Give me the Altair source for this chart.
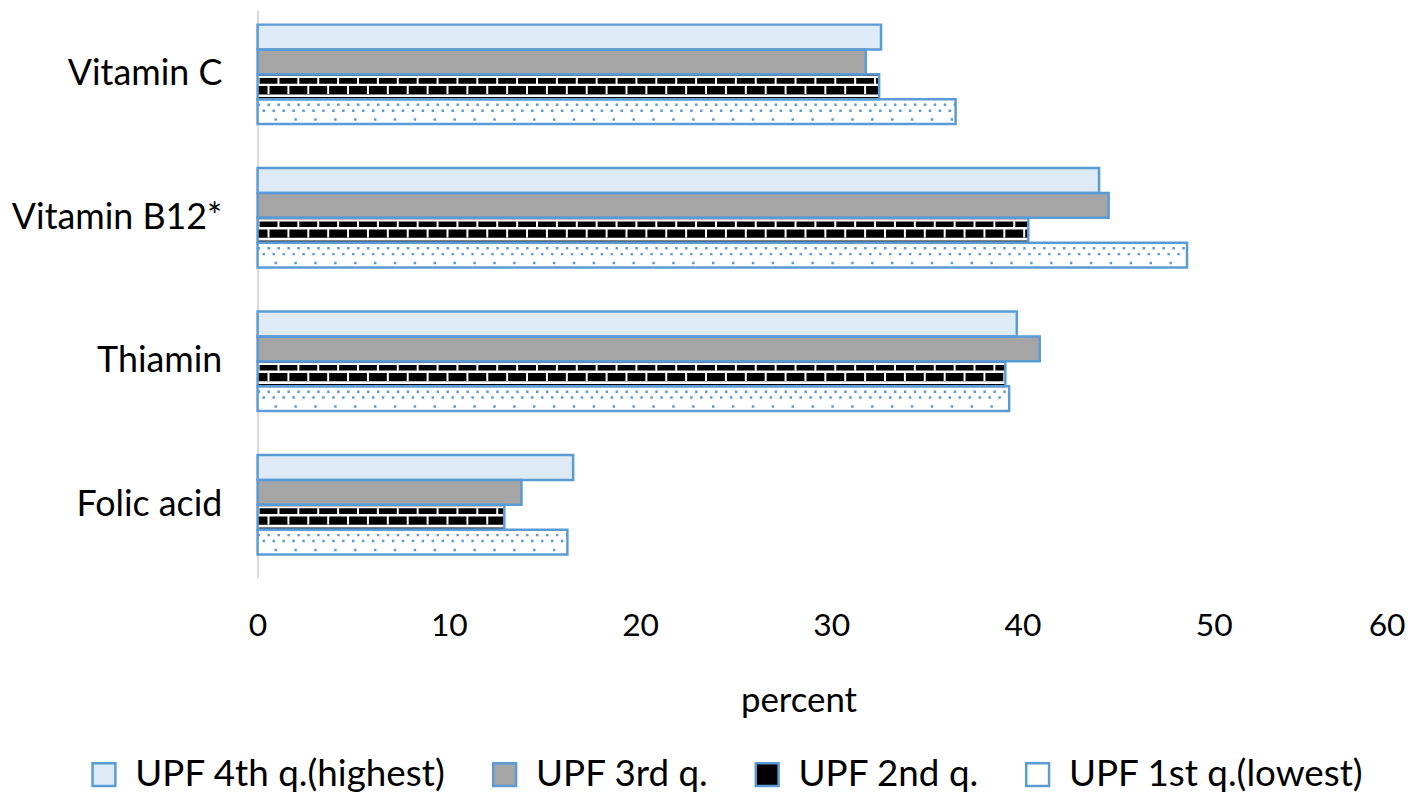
import altair as alt
import pandas as pd

categories = ["Vitamin C", "Vitamin B12*", "Thiamin", "Folic acid"]
series_names = ["UPF 4th q.(highest)", "UPF 3rd q.", "UPF 2nd q.", "UPF 1st q.(lowest)"]
q4_values = [32.6, 44.0, 39.7, 16.5]
q3_values = [31.8, 44.5, 40.9, 13.8]
q2_values = [32.5, 40.3, 39.1, 12.9]
q1_values = [36.5, 48.6, 39.3, 16.2]
x_ticks = [0, 10, 20, 30, 40, 50, 60]

values_by_series = [q4_values, q3_values, q2_values, q1_values]
fills = ["#DEEBF7", "#A5A5A5", "#000000", "#FFFFFF"]
BLUE = "#5B9BD5"
FONT = "Lato"

rows = []
for s, vals in zip(series_names, values_by_series):
    for c, v in zip(categories, vals):
        rows.append({"cat": c, "series": s, "value": v, "zero": 0})
bars = pd.DataFrame(rows)

SLOTS = 100
SUB = SLOTS // 4

xs = alt.Scale(domain=[0, 60], nice=False, zero=True)
ys = alt.Scale(domain=categories, paddingInner=0.307, paddingOuter=0.132, align=0.38)
series_scale = alt.Scale(domain=series_names, paddingInner=0, paddingOuter=0)
slot_scale = alt.Scale(domain=list(range(SLOTS)), paddingInner=0, paddingOuter=0)

xaxis = alt.Axis(values=x_ticks, grid=False, domain=False, ticks=False, tickSize=0,
                 labelFont=FONT, labelFontSize=32, labelColor="#000000", labelPadding=33,
                 labelLimit=1000,
                 labelAlign={"expr": "datum.value == 60 ? 'right' : 'center'"},
                 title="percent", titleFont=FONT, titleFontSize=35, titleFontWeight="normal",
                 titleColor="#000000", titleX=544, titleY=134, titleBaseline="alphabetic",
                 titleAlign="center")
yaxis = alt.Axis(title="", ticks=False, tickSize=0, domain=True, domainColor="#D9D9D9",
                 domainWidth=2, labelFont=FONT, labelFontSize=36, labelColor="#000000",
                 labelPadding=36, labelLimit=1000, grid=False)

X = alt.X("zero:Q", scale=xs, axis=xaxis)
X2 = alt.X2("value:Q")
Y = alt.Y("cat:N", scale=ys, axis=yaxis, sort=categories)

fill_layer = alt.Chart(bars).mark_bar(strokeWidth=0).encode(
    x=X, x2=X2, y=Y,
    yOffset=alt.YOffset("series:N", scale=series_scale, sort=series_names),
    color=alt.Color("series:N", scale=alt.Scale(domain=series_names, range=fills),
                    sort=series_names,
                    legend=alt.Legend(orient="none", legendX=-173, legendY=750,
                                      direction="horizontal", columns=4, title=None,
                                      symbolType="square", symbolSize=529,
                                      symbolStrokeColor=BLUE, symbolStrokeWidth=2.5,
                                      symbolOpacity=1, labelLimit=1000,
                                      labelFont=FONT, labelFontSize=37, labelColor="#000000",
                                      labelOffset=13, columnPadding=40, padding=0)),
)

stroke_layer = alt.Chart(bars).mark_bar(fillOpacity=0, stroke=BLUE, strokeWidth=2.5).encode(
    x=X, x2=X2, y=Y,
    yOffset=alt.YOffset("series:N", scale=series_scale, sort=series_names),
)


def pattern_rows(series_idx, offset):
    slot = int(series_idx * SUB + offset)
    vals = values_by_series[series_idx]
    return pd.DataFrame({"cat": categories, "value": vals, "zero": [0] * len(vals),
                         "slot": [slot] * len(vals)})


def rule_layer(series_idx, offset, color, width, dash=None, dash_offset=0):
    kw = dict(color=color, strokeWidth=width, strokeCap="butt")
    if dash is not None:
        kw["strokeDash"] = dash
        kw["strokeDashOffset"] = dash_offset
    return alt.Chart(pattern_rows(series_idx, offset)).mark_rule(**kw).encode(
        x=X, x2=X2, y=Y,
        yOffset=alt.YOffset("slot:O", scale=slot_scale),
    )


pattern_layers = [
    # brick pattern (2nd quartile): white mortar on black
    rule_layer(2, 2.3, "#FFFFFF", 2.2),
    rule_layer(2, 10.5, "#FFFFFF", 2.3),
    rule_layer(2, 21.3, "#FFFFFF", 2.7),
    rule_layer(2, 6.4, "#FFFFFF", 6.2, [2, 18], 0),
    rule_layer(2, 15.8, "#FFFFFF", 8.6, [2, 18], 10),
    # dotted pattern (1st quartile)
    rule_layer(3, 5.0, BLUE, 2.5, [2.5, 7.5], 0),
    rule_layer(3, 11.5, BLUE, 2.5, [2.5, 7.5], 5),
    rule_layer(3, 20.0, BLUE, 2.5, [2.5, 17.5], 3),
]

chart = alt.layer(fill_layer, *pattern_layers, stroke_layer).resolve_scale(
    yOffset="independent"
).properties(
    width=1154, height=571,
    autosize=alt.AutoSizeParams(type="none"),
    padding={"left": 251, "top": 0, "right": 8, "bottom": 217},
    background="#FFFFFF",
).configure_view(strokeWidth=0)

chart.save("out.html", embed_options={"renderer": "svg", "actions": False})
